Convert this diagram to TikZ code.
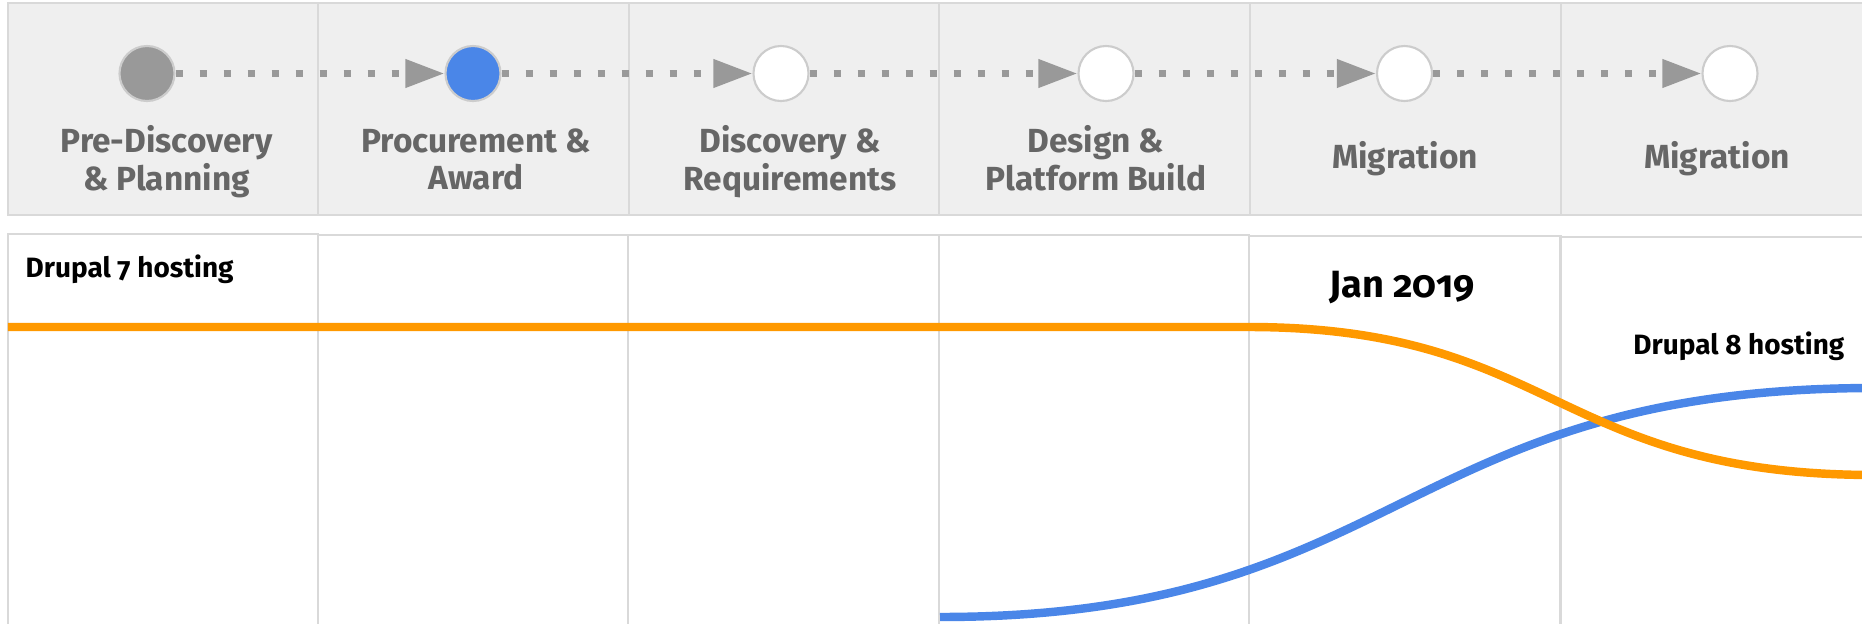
\documentclass[tikz,border=0pt]{standalone}
\usepackage{fontspec}
\setmainfont{Fira Sans}[Numbers=OldStyle]
\usetikzlibrary{arrows.meta}
\definecolor{hdrfill}{HTML}{EFEFEF}
\definecolor{hdrline}{HTML}{D9D9D9}
\definecolor{hdrtext}{HTML}{666666}
\definecolor{dotgray}{HTML}{999999}
\definecolor{ringgray}{HTML}{CCCCCC}
\definecolor{gblue}{HTML}{4A86E8}
\definecolor{gorange}{HTML}{FF9900}
\newcommand{\twoline}[2]{\begin{tabular}[t]{@{}c@{}}#1\\#2\end{tabular}}
\begin{document}
\begin{tikzpicture}[x=0.01cm,y=-0.01cm,
  hdrbox/.style={draw=hdrline,fill=hdrfill,line width=0.7pt},
  rowbox/.style={draw=hdrline,fill=white,line width=0.85pt},
  stage/.style={circle,draw=ringgray,line width=0.6pt,minimum size=0.55cm,inner sep=0pt},
  dotline/.style={draw=dotgray,line width=2pt,dash pattern=on 2pt off 4.83pt,
    -{Triangle[length=0.39cm,width=0.27cm,fill=dotgray]}},
  hdr/.style={text=hdrtext,font=\fontsize{9.5pt}{10.8pt}\selectfont\bfseries,inner sep=0pt,anchor=base},
  lbl/.style={text=black,font=\fontsize{7.95pt}{9pt}\selectfont\bfseries,inner sep=0pt},
  datelbl/.style={text=black,font=\fontsize{10.8pt}{12pt}\selectfont\bfseries,inner sep=0pt,anchor=base},
  hostline/.style={line width=2.4pt}
]
\useasboundingbox (0,0) rectangle (1862,624);
\clip (0,0) rectangle (1862,624);
% header boxes
\draw[hdrbox] (8,3) rectangle (318,215);
\draw[hdrbox] (318,3) rectangle (629,215);
\draw[hdrbox] (629,3) rectangle (939,215);
\draw[hdrbox] (939,3) rectangle (1250,215);
\draw[hdrbox] (1250,3) rectangle (1561,215);
\draw[hdrbox] (1561,3) rectangle (1880,215);
% lower boxes
\draw[rowbox] (8,234) rectangle (318,640);
\draw[rowbox] (318,235) rectangle (628,640);
\draw[rowbox] (628,235) rectangle (939,640);
\draw[rowbox] (939,235) rectangle (1249,640);
\draw[rowbox] (1249,236) rectangle (1560,640);
\draw[rowbox] (1560,237) rectangle (1880,640);
% stages
\node[stage,fill=dotgray] (c1) at (147,73.5) {};
\node[stage,fill=gblue] (c2) at (473,73.5) {};
\node[stage,fill=white] (c3) at (781,73.5) {};
\node[stage,fill=white] (c4) at (1106,73.5) {};
\node[stage,fill=white] (c5) at (1404.5,73.5) {};
\node[stage,fill=white] (c6) at (1730,73.5) {};
\draw[dotline] (c1) -- (c2);
\draw[dotline] (c2) -- (c3);
\draw[dotline] (c3) -- (c4);
\draw[dotline] (c4) -- (c5);
\draw[dotline] (c5) -- (c6);
% header labels
\node[hdr] (t1) at (166.5,152) {\twoline{Pre-Discovery}{\& Planning}};
\node[hdr] (t2) at (476,152) {\twoline{Procurement \&}{Award}};
\node[hdr] (t3) at (790,152) {\twoline{Discovery \&}{Requirements}};
\node[hdr] (t4) at (1096,152) {\twoline{Design \&}{Platform Build}};
\node[hdr] (t5) at (1405,168) {Migration};
\node[hdr] (t6) at (1717,168) {Migration};
% row labels
\node[lbl,anchor=base west] (d7) at (25,277) {Drupal 7 hosting};
\node[datelbl] (jan) at (1402,297) {Jan 2019};
\node[lbl,anchor=base east] (d8) at (1845,354) {Drupal 8 hosting};
% hosting curves
\coordinate (b0) at (940,617);
\coordinate (b1) at (1875,388);
\draw[hostline,gblue] (b0) .. controls (1401,617) and (1401,388) .. (b1);
\coordinate (o0) at (8,327);
\coordinate (o1) at (1248,327);
\coordinate (o2) at (1875,475);
\draw[hostline,gorange] (o0) -- (o1) .. controls (1555,327) and (1555,475) .. (o2);
\end{tikzpicture}
\end{document}
